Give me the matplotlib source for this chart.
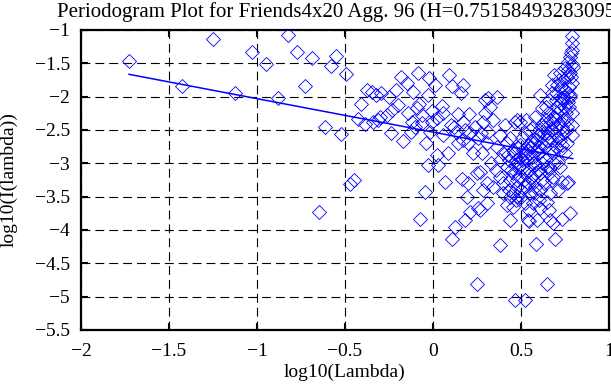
import matplotlib
matplotlib.use("Agg")
import matplotlib.pyplot as plt

title = "Periodogram Plot for Friends4x20 Agg. 96 (H=0.751584932830954)"
x_label = "log10(Lambda)"
y_label = "log10(I(lambda))"

x_ticks = [-2, -1.5, -1, -0.5, 0, 0.5, 1]
x_tick_labels = ["\u22122", "\u22121.5", "\u22121", "\u22120.5", "0", "0.5", "1"]
y_ticks = [-5.5, -5, -4.5, -4, -3.5, -3, -2.5, -2, -1.5, -1]
y_tick_labels = ["\u22125.5", "\u22125", "\u22124.5", "\u22124", "\u22123.5", "\u22123", "\u22122.5", "\u22122", "\u22121.5", "\u22121"]

# periodogram points: log10(lambda), log10(I(lambda))
pts_x = [
    -1.727, -1.426, -1.250, -1.125, -1.028, -0.949, -0.882, -0.824, -0.773, -0.727,
    -0.686, -0.648, -0.613, -0.581, -0.551, -0.523, -0.497, -0.472, -0.449, -0.426,
    -0.409, -0.386, -0.377, -0.348, -0.339, -0.326, -0.314, -0.301, -0.295, -0.263,
    -0.248, -0.239, -0.235, -0.212, -0.197, -0.184, -0.169, -0.146, -0.140, -0.125,
    -0.120, -0.112, -0.102, -0.090, -0.083, -0.080, -0.074, -0.064, -0.060, -0.045,
    -0.042, -0.030, -0.028, -0.023, -0.017, -0.007, -0.007,
    0.011, 0.021, 0.021, 0.030, 0.053, 0.059, 0.059, 0.068, 0.087, 0.091,
    0.100, 0.106, 0.110, 0.120, 0.125, 0.131, 0.144, 0.144, 0.159, 0.163,
    0.172, 0.172, 0.172, 0.180, 0.182, 0.191, 0.200, 0.200, 0.206, 0.210,
    0.210, 0.229, 0.240, 0.248, 0.248, 0.258, 0.258, 0.267, 0.267, 0.270,
    0.280, 0.286, 0.286, 0.295, 0.295, 0.305, 0.305, 0.305, 0.311, 0.314,
    0.324, 0.330, 0.343, 0.343, 0.360, 0.362, 0.362, 0.381, 0.381, 0.381,
    0.381, 0.400, 0.400, 0.400, 0.409, 0.419, 0.419, 0.420, 0.428, 0.430,
    0.437, 0.437, 0.437, 0.440, 0.456, 0.456, 0.456, 0.456, 0.466, 0.466,
    0.466, 0.470, 0.470, 0.476, 0.476, 0.479, 0.480, 0.485, 0.490, 0.494,
    0.494, 0.494, 0.500, 0.504, 0.510, 0.513, 0.520, 0.520, 0.523, 0.523,
    0.530, 0.530, 0.541, 0.541, 0.545, 0.547, 0.551, 0.551, 0.551, 0.560,
    0.570, 0.570, 0.570, 0.570, 0.580, 0.580, 0.580, 0.580, 0.585, 0.589,
    0.590, 0.598, 0.600, 0.600, 0.608, 0.608, 0.608, 0.608, 0.617, 0.617,
    0.620, 0.627, 0.630, 0.630, 0.640, 0.640, 0.646, 0.646, 0.646, 0.649,
    0.655, 0.660, 0.660, 0.661, 0.665, 0.665, 0.665, 0.674, 0.674, 0.674,
    0.674, 0.674, 0.680, 0.684, 0.684, 0.689, 0.690, 0.693, 0.693, 0.700,
    0.700, 0.700, 0.703, 0.703, 0.712, 0.712, 0.712, 0.715, 0.720, 0.720,
    0.722, 0.722, 0.730, 0.731, 0.731, 0.731, 0.731, 0.740, 0.740, 0.745,
    0.750, 0.750, 0.750, 0.750, 0.750, 0.760, 0.760, 0.760, 0.760, 0.765,
    0.769, 0.769, 0.769, 0.775, 0.778, 0.778, 0.778, 0.780, 0.785, 0.788,
    0.788, 0.788, 0.788, 0.788, 0.788, 0.792, 0.792,
    # extra points in the dense high-frequency cluster
    0.430, 0.445, 0.460, 0.475, 0.490, 0.505, 0.515, 0.525, 0.535, 0.545,
    0.555, 0.565, 0.575, 0.585, 0.595, 0.605, 0.615, 0.625, 0.635, 0.645,
    0.655, 0.665, 0.675, 0.685, 0.695, 0.705, 0.715, 0.725, 0.735, 0.745,
    0.755, 0.765, 0.775, 0.785, 0.500, 0.520, 0.540, 0.560, 0.580, 0.600,
    0.620, 0.640, 0.660, 0.680, 0.700, 0.720, 0.740, 0.760, 0.780, 0.795,
]
pts_y = [
    -1.465, -1.835, -1.140, -1.940, -1.335, -1.505, -2.015, -1.075, -1.335, -1.840,
    -1.415, -3.730, -2.455, -1.535, -1.390, -2.565, -1.660, -3.315, -3.250, -2.335,
    -2.110, -2.415, -1.900, -1.925, -2.375, -1.975, -2.350, -2.300, -1.950, -2.275,
    -2.010, -2.550, -2.200, -1.900, -2.125, -1.700, -2.665, -1.800, -2.250, -2.525,
    -2.380, -1.925, -2.450, -2.170, -1.650, -2.115, -3.835, -2.275, -2.400, -3.425,
    -2.700, -1.975, -3.030, -1.715, -2.525, -2.215, -2.375,
    -1.825, -2.325, -2.875, -3.025, -2.140, -2.250, -2.575, -3.275, -2.850, -1.675,
    -2.425, -4.140, -1.840, -2.450, -3.950, -2.525, -2.265, -2.700, -1.940, -3.240,
    -1.825, -2.375, -2.650, -2.500, -3.850, -3.500, -3.300, -2.700, -2.265, -2.550,
    -3.725, -2.850, -2.450, -3.150, -4.810, -2.625, -3.675, -3.125, -3.700, -2.550,
    -2.850, -2.375, -3.400, -2.250, -2.050, -2.700, -3.300, -3.600, -2.015, -2.525,
    -2.150, -3.000, -2.350, -3.350, -3.100, -2.000, -2.750, -2.575, -2.950, -3.200,
    -4.225, -3.300, -3.450, -2.850, -2.425, -3.050, -3.625, -2.700, -2.875, -3.400,
    -2.625, -3.500, -3.850, -3.250, -2.800, -3.150, -3.450, -3.650, -2.375, -3.025,
    -5.050, -2.950, -3.550, -2.350, -3.350, -3.485, -3.250, -2.775, -3.200, -2.375,
    -2.725, -2.900, -3.400, -2.625, -2.800, -3.050, -3.600, -2.550, -2.925, -5.050,
    -2.350, -3.150, -2.725, -3.850, -3.700, -3.860, -2.500, -2.850, -3.450, -2.650,
    -3.000, -3.250, -2.450, -3.600, -2.300, -3.025, -3.450, -3.150, -4.210, -2.800,
    -3.850, -2.575, -2.750, -3.550, -1.975, -3.150, -3.400, -3.675, -2.175, -2.425,
    -3.000, -2.900, -2.550, -3.300, -2.350, -2.150, -2.650, -3.050, -3.575, -4.810,
    -2.250, -2.600, -2.050, -3.700, -3.075, -3.450, -3.850, -1.825, -1.950, -2.500,
    -2.800, -3.250, -2.400, -3.200, -3.900, -1.675, -3.000, -2.325, -4.140, -2.450,
    -1.950, -2.050, -1.825, -2.150, -2.600, -2.975, -3.400, -1.750, -2.200, -2.800,
    -1.650, -3.050, -1.850, -2.025, -2.725, -3.275, -3.840, -2.350, -2.050, -1.750,
    -1.575, -1.900, -2.175, -2.525, -2.850, -1.700, -3.300, -2.700, -2.350, -1.600,
    -1.475, -2.075, -3.275, -1.850, -1.400, -1.975, -3.740, -1.650, -1.350, -1.090,
    -1.300, -1.515, -2.250, -2.425, -2.575, -1.200, -1.800,
    -2.950, -3.100, -2.850, -3.000, -3.050, -2.950, -3.250, -2.850, -2.950, -3.100,
    -2.750, -2.900, -2.700, -2.650, -2.850, -2.500, -2.700, -2.450, -2.750, -2.450,
    -2.550, -2.350, -2.650, -2.300, -2.550, -2.250, -2.400, -2.100, -2.450, -2.000,
    -2.250, -1.950, -2.150, -1.700, -3.500, -3.350, -3.300, -3.200, -3.350, -3.100,
    -3.250, -2.950, -3.150, -2.850, -2.750, -2.650, -2.550, -2.450, -2.000, -1.550,
]

# least-squares fit line drawn over the frequency range
fit_x = [-1.727, 0.794]
fit_y = [-1.665, -2.930]

serif = ["Liberation Serif", "DejaVu Serif"]
plt.rcParams["font.family"] = serif
plt.rcParams["axes.unicode_minus"] = False

fig = plt.figure(figsize=(6.11, 3.85), dpi=100)
ax = fig.add_axes([81 / 611, 1 - 330 / 385, (609 - 81) / 611, 300 / 385])

ax.plot(pts_x, pts_y, linestyle="none", marker="D", markersize=6.8,
        markerfacecolor="none", markeredgecolor="#0000ff", markeredgewidth=0.6,
        zorder=3)
ax.plot(fit_x, fit_y, color="#0000ff", linewidth=1.1, zorder=4)

ax.set_xlim(-2, 1)
ax.set_ylim(-5.5, -1)
ax.set_xticks(x_ticks)
ax.set_xticklabels(x_tick_labels)
ax.set_yticks(y_ticks)
ax.set_yticklabels(y_tick_labels)
ax.tick_params(direction="in", length=5, width=1.5, labelsize=14,
               top=True, right=True)
ax.tick_params(axis="x", pad=9)
ax.tick_params(axis="y", pad=8)
ax.grid(True, color="black", linestyle=(0, (8, 4.5)), linewidth=0.8)
ax.set_axisbelow(True)
for s in ax.spines.values():
    s.set_linewidth(1.6)

ax.set_xlabel(x_label, fontsize=14, labelpad=3)
ax.set_ylabel(y_label, fontsize=14, labelpad=12)
ax.set_title(title, fontsize=15, pad=9)

fig.savefig("out.png", dpi=100)
